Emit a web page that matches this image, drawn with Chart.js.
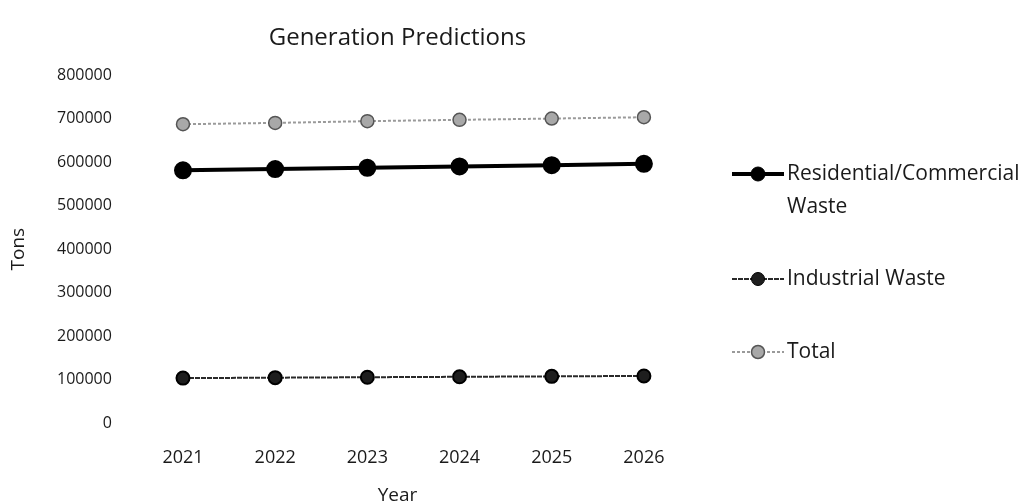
<!DOCTYPE html>
<html>
<head>
<meta charset="utf-8">
<script src="https://cdn.jsdelivr.net/npm/chart.js@4.4.1/dist/chart.umd.min.js"></script>
<style>
  html, body { margin: 0; padding: 0; background: #fff; }
  canvas { display: block; }
</style>
</head>
<body>
<canvas id="chart" width="1026" height="504"></canvas>
<script>
// data
const years = ['2021', '2022', '2023', '2024', '2025', '2026'];
const residential = [581000, 584000, 587000, 590000, 593000, 596000];
const industrial = [104000, 105000, 106000, 107000, 108000, 109000];
const total = [687000, 690000, 694000, 697000, 700000, 703000];
const yTicks = [0, 100000, 200000, 300000, 400000, 500000, 600000, 700000, 800000];

const FONT = '"Open Sans", sans-serif';
const INK = '#1a1a1a';

// title, axis titles and the wrapped legend are drawn by hand
const decorations = {
    id: 'decorations',
    afterDraw(chart) {
        const ctx = chart.ctx;
        const area = chart.chartArea;
        const cx = (area.left + area.right) / 2 - 16;
        ctx.save();
        ctx.fillStyle = INK;
        ctx.textAlign = 'center';
        ctx.textBaseline = 'middle';
        ctx.font = '24px ' + FONT;
        ctx.fillText('Generation Predictions', cx, 38);
        ctx.font = '19px ' + FONT;
        ctx.fillText('Year', cx, 496);
        ctx.save();
        ctx.translate(19, (area.top + area.bottom) / 2);
        ctx.rotate(-Math.PI / 2);
        ctx.fillText('Tons', 0, 0);
        ctx.restore();

        const x0 = area.right + 42;
        const rows = [
            {ds: 0, y: 174, lines: ['Residential/Commercial', 'Waste']},
            {ds: 1, y: 279, lines: ['Industrial Waste']},
            {ds: 2, y: 352, lines: ['Total']}
        ];
        ctx.textAlign = 'left';
        rows.forEach(r => {
            const d = chart.data.datasets[r.ds];
            ctx.strokeStyle = d.borderColor;
            ctx.lineWidth = d.borderWidth;
            ctx.setLineDash(d.borderDash || []);
            ctx.beginPath();
            ctx.moveTo(x0, r.y);
            ctx.lineTo(x0 + 52, r.y);
            ctx.stroke();
            ctx.setLineDash([]);
            ctx.fillStyle = d.pointBackgroundColor;
            ctx.strokeStyle = d.pointBorderColor;
            ctx.lineWidth = d.pointBorderWidth || 1;
            ctx.beginPath();
            ctx.arc(x0 + 26, r.y, d.pointRadius, 0, Math.PI * 2);
            ctx.fill();
            ctx.stroke();
            ctx.fillStyle = INK;
            ctx.font = '21px ' + FONT;
            r.lines.forEach((t, i) => ctx.fillText(t, x0 + 55, r.y + i * 33));
        });
        ctx.restore();
    }
};

new Chart(document.getElementById('chart').getContext('2d'), {
    type: 'line',
    data: {
        labels: years,
        datasets: [
            {
                label: 'Residential/Commercial Waste',
                data: residential,
                borderColor: '#000',
                borderWidth: 4,
                pointRadius: 7,
                pointBackgroundColor: '#000',
                pointBorderColor: '#000',
                tension: 0
            },
            {
                label: 'Industrial Waste',
                data: industrial,
                borderColor: '#2a2a2a',
                borderWidth: 2,
                borderDash: [5, 1],
                pointRadius: 6.5,
                pointBackgroundColor: '#1e1e1e',
                pointBorderColor: '#000',
                tension: 0
            },
            {
                label: 'Total',
                data: total,
                borderColor: '#9a9a9a',
                borderWidth: 2,
                borderDash: [3, 2],
                pointRadius: 6.5,
                pointBackgroundColor: '#a8a8a8',
                pointBorderColor: '#555',
                pointBorderWidth: 1.5,
                tension: 0
            }
        ]
    },
    options: {
        responsive: false,
        animation: false,
        layout: {padding: {left: 32, right: 336, top: 75, bottom: 11}},
        plugins: {
            legend: {display: false},
            tooltip: {enabled: false},
            title: {display: false}
        },
        scales: {
            x: {
                offset: true,
                grid: {display: false, drawTicks: false},
                border: {display: false},
                ticks: {color: INK, font: {family: FONT, size: 18}, padding: 24}
            },
            y: {
                min: 0,
                max: 800000,
                afterBuildTicks(axis) { axis.ticks = yTicks.map(v => ({value: v})); },
                grid: {display: false, drawTicks: false},
                border: {display: false},
                ticks: {
                    color: INK,
                    font: {family: FONT, size: 16},
                    padding: 25,
                    callback: v => String(v)
                }
            }
        }
    },
    plugins: [decorations]
});
</script>
</body>
</html>
